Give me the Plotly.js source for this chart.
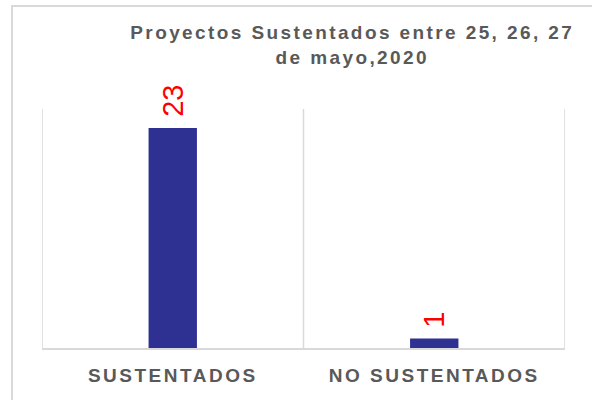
<!DOCTYPE html>
<html>
<head>
<meta charset="utf-8">
<script src="https://cdn.plot.ly/plotly-3.0.1.min.js"></script>
<style>
  html, body { margin: 0; padding: 0; background: #fff; }
  #wrap { position: relative; width: 592px; height: 400px; overflow: hidden; }
  #frame { position: absolute; left: 11px; top: 5px; width: 700px; height: 500px;
           border-left: 2px solid #d9d9d9; border-top: 2px solid #d9d9d9; pointer-events: none; }
  .gtitle { letter-spacing: 2.4px; }
  .xtick text { letter-spacing: 2.5px; }
</style>
</head>
<body>
<div id="wrap">
  <div id="chart" style="width:592px;height:400px;"></div>
  <div id="frame"></div>
</div>
<script>
const categories = ["SUSTENTADOS", "NO SUSTENTADOS"];
const values = [23, 1];
const valueLabels = ["23", "1"];
const titleText = "Proyectos Sustentados entre 25, 26, 27<br>de mayo,2020";

const FONT = "Liberation Sans, Arial, sans-serif";

const trace = {
  type: "bar",
  x: categories,
  y: values,
  marker: { color: "#2e3192" },
  hoverinfo: "none"
};

// value labels placed from the data values
const annotations = categories.map((c, i) => ({
  x: c,
  y: values[i],
  xref: "x",
  yref: "y",
  text: valueLabels[i],
  textangle: -90,
  showarrow: false,
  xanchor: "center",
  yanchor: "bottom",
  yshift: 9,
  font: { family: FONT, size: 29, color: "#ff0000" }
}));

// category boundary divider lines (Excel-style vertical gridlines)
const shapes = [];
for (let i = 0; i <= categories.length; i++) {
  shapes.push({
    type: "line", xref: "x", yref: "paper",
    x0: i - 0.5, x1: i - 0.5, y0: 0, y1: 1,
    line: { color: "#d9d9d9", width: 1.5 }
  });
}

const layout = {
  width: 592,
  height: 400,
  margin: { l: 42, r: 27, t: 109, b: 52 },
  paper_bgcolor: "#ffffff",
  plot_bgcolor: "#ffffff",
  showlegend: false,
  bargap: 0.815,
  title: {
    text: titleText,
    font: { family: FONT, size: 19, color: "#595959", weight: "bold" },
    x: 0.595, xanchor: "center",
    y: 0.902, yanchor: "top"
  },
  xaxis: {
    type: "category",
    range: [-0.5, categories.length - 0.5],
    showgrid: false,
    showline: true,
    linecolor: "#d9d9d9",
    linewidth: 1.5,
    ticks: "",
    tickfont: { family: FONT, size: 19, color: "#595959", weight: "bold" },
    ticklabelstandoff: 10
  },
  yaxis: {
    range: [0, 25],
    visible: false,
    showgrid: false,
    zeroline: false
  },
  annotations: annotations,
  shapes: shapes
};

Plotly.newPlot("chart", [trace], layout, { displayModeBar: false, staticPlot: true });
</script>
</body>
</html>
